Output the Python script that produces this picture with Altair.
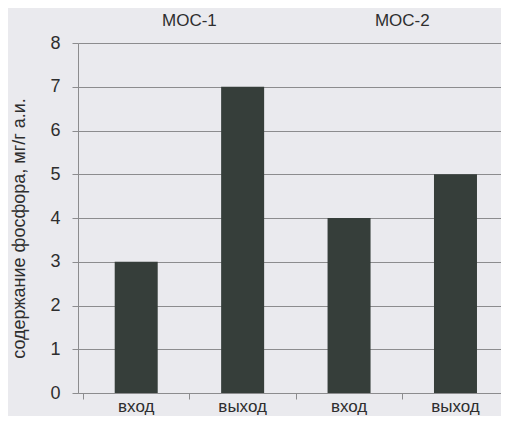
import altair as alt
import pandas as pd

groups = ["МОС-1", "МОС-1", "МОС-2", "МОС-2"]
categories = ["вход", "выход", "вход", "выход"]
values = [3, 7, 4, 5]
group_labels = ["МОС-1", "МОС-2"]

n = len(categories)
df = pd.DataFrame({
    "pos": [i + 0.5 for i in range(n)],
    "group": groups,
    "cat": categories,
    "value": values,
})
grp_df = pd.DataFrame({"pos": [1.0, 3.0], "label": group_labels})

FONT = "Liberation Sans"
TXT = "#2e2e2e"
GRID = "#8c8c8e"
W, H = 423, 350
STEP = 109  # pixel width of one category slot

x_scale = alt.Scale(domain=[0, W / STEP], nice=False, zero=False)

x_enc = alt.X(
    "pos:Q",
    scale=x_scale,
    axis=alt.Axis(
        title=None,
        values=[0, 1, 2, 3],
        labels=False,
        tickSize=6,
        tickColor=GRID,
        domainColor=GRID,
        grid=False,
    ),
)

bars = alt.Chart(df).mark_bar(color="#363e3a", width=43).encode(
    x=x_enc,
    y=alt.Y(
        "value:Q",
        scale=alt.Scale(domain=[0, 8], nice=False),
        axis=alt.Axis(
            title="содержание фосфора, мг/г а.и.",
            titleFont=FONT,
            titleFontSize=18,
            titleFontWeight="normal",
            titleColor=TXT,
            titleAngle=270,
            titleAlign="center",
            titleBaseline="middle",
            titleX=-59,
            titleY=185,
            values=[0, 1, 2, 3, 4, 5, 6, 7, 8],
            format="d",
            tickSize=6,
            tickColor=GRID,
            domainColor=GRID,
            gridColor=GRID,
            gridOpacity=1,
            labelPadding=12,
            labelFontSize=18,
            labelFont=FONT,
            labelColor=TXT,
        ),
    ),
)

xlabels = alt.Chart(df).mark_text(
    font=FONT, fontSize=17, color=TXT, baseline="alphabetic"
).encode(
    x=alt.X("pos:Q", scale=x_scale),
    y=alt.value(H + 19),
    text="cat:N",
)

glabels = alt.Chart(grp_df).mark_text(
    font=FONT, fontSize=17, color=TXT, baseline="alphabetic"
).encode(
    x=alt.X("pos:Q", scale=x_scale),
    y=alt.value(-17),
    text="label:N",
)

chart = alt.layer(bars, xlabels, glabels).properties(
    width=W,
    height=H,
    background="#eaeaee",
    padding={"left": 70, "top": 35, "right": 0, "bottom": 23},
    autosize=alt.AutoSizeParams(type="none"),
).configure_view(stroke=None)

chart.save("out.html", embed_options={"renderer": "svg", "actions": False})
